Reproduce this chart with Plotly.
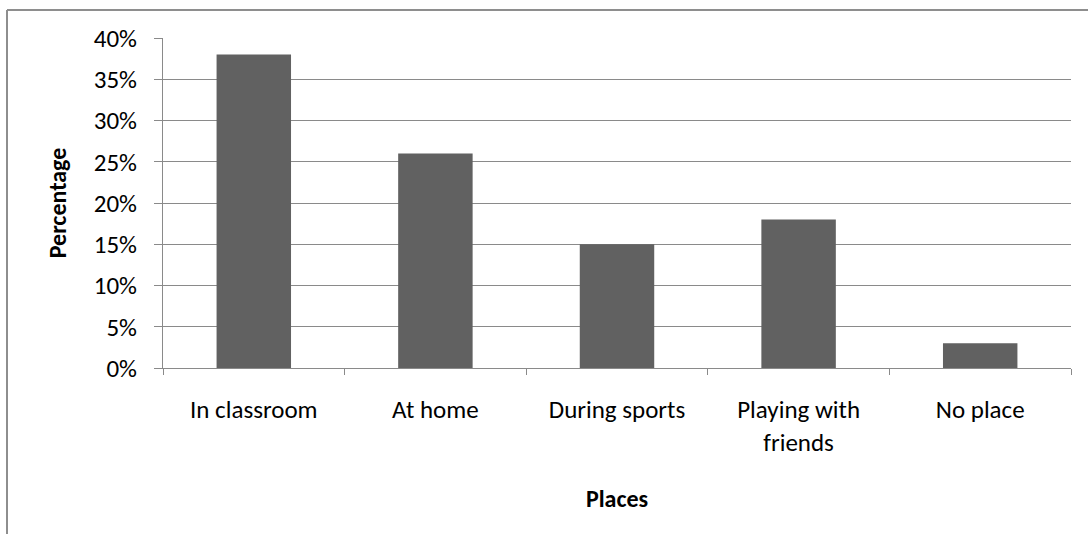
import plotly.graph_objects as go

# Survey results: where respondents reported the situation occurring
places = ["In classroom", "At home", "During sports", "Playing with<br>friends", "No place"]
percentages = [0.38, 0.26, 0.15, 0.18, 0.03]
y_tick_values = [0, 0.05, 0.10, 0.15, 0.20, 0.25, 0.30, 0.35, 0.40]

W, H = 1088, 534
L, R, T, B = 163, 17, 38, 166
FONT = "Carlito, Lato, sans-serif"

fig = go.Figure(
    go.Bar(
        x=places,
        y=percentages,
        marker=dict(color="#616161", line=dict(width=0)),
        width=0.41,
    )
)

pw = W - L - R
ph = H - T - B


def px_x(p):
    return (p - L) / pw


def px_y(p):
    return (H - B - p) / ph


# Outer chart frame (left and top edges)
frame = dict(color="#8e8e8e", width=2)
shapes = [
    dict(type="line", xref="paper", yref="paper",
         x0=px_x(7), x1=px_x(7), y0=px_y(10), y1=px_y(H + 5), line=frame),
    dict(type="line", xref="paper", yref="paper",
         x0=px_x(7), x1=px_x(W + 5), y0=px_y(10), y1=px_y(10), line=frame),
]

fig.update_layout(
    width=W,
    height=H,
    margin=dict(l=L, r=R, t=T, b=B),
    paper_bgcolor="white",
    plot_bgcolor="white",
    showlegend=False,
    font=dict(family=FONT, size=25, color="#000000"),
    shapes=shapes,
    xaxis=dict(
        type="category",
        tickson="boundaries",
        ticks="outside",
        ticklen=6,
        tickwidth=1,
        tickcolor="#8a8a8a",
        showline=True,
        linecolor="#8a8a8a",
        linewidth=1,
        showgrid=False,
        ticklabelstandoff=19,
        tickfont=dict(family=FONT, size=25),
        title=dict(text="<b>Places</b>", font=dict(family=FONT, size=24), standoff=33),
    ),
    yaxis=dict(
        range=[0, 0.4],
        tickvals=y_tick_values,
        tickformat=".0%",
        ticks="outside",
        ticklen=8,
        tickwidth=1,
        tickcolor="#8a8a8a",
        showline=True,
        linecolor="#8a8a8a",
        linewidth=1,
        showgrid=True,
        gridcolor="#8a8a8a",
        gridwidth=1,
        zeroline=False,
        ticklabelstandoff=12,
        tickfont=dict(family=FONT, size=25),
        title=dict(text="<b>Percentage</b>", font=dict(family=FONT, size=24), standoff=20),
    ),
    bargap=0.59,
)

fig.write_html("out.html")
